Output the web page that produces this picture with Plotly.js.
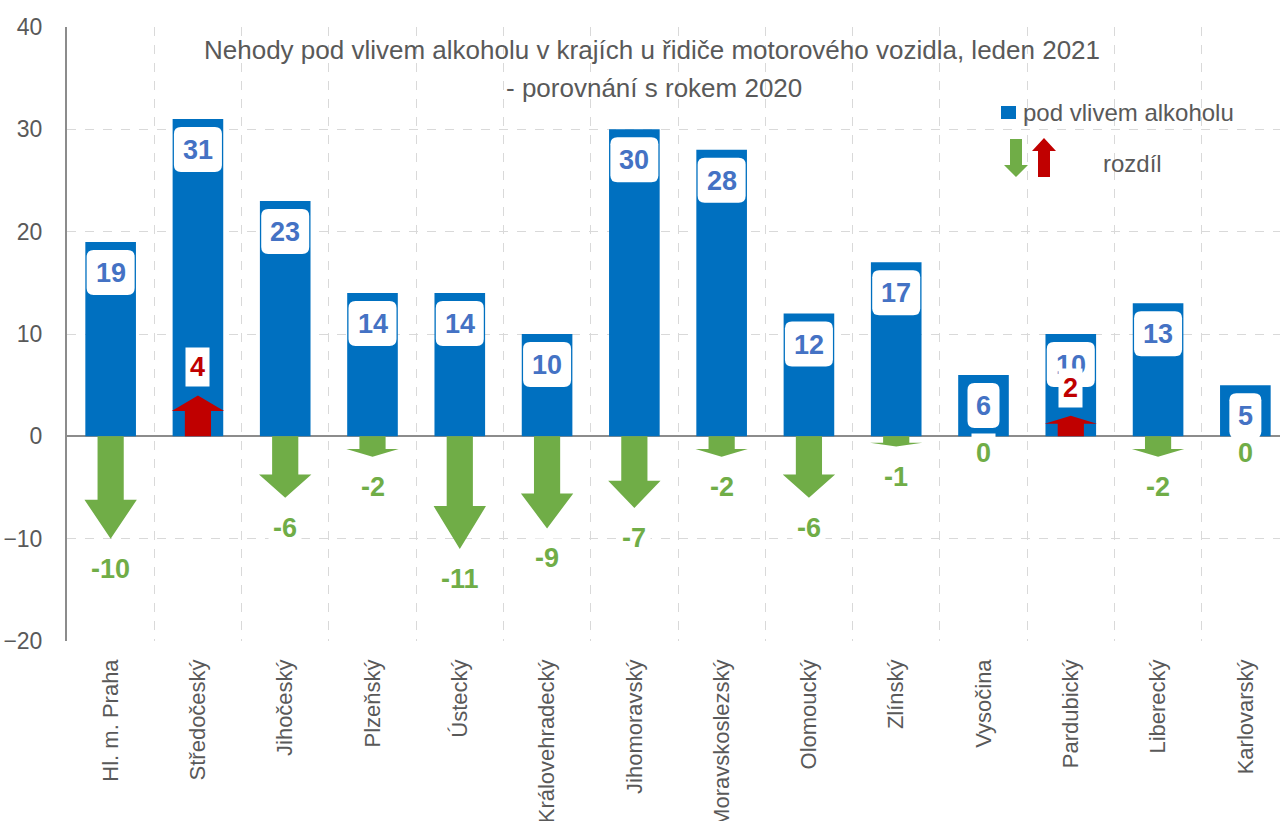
<!DOCTYPE html>
<html>
<head>
<meta charset="utf-8">
<script src="https://cdn.plot.ly/plotly-3.0.1.min.js"></script>
<style>
html,body{margin:0;padding:0;overflow:hidden;background:#fff}
#chart{width:1300px;height:821px}
</style>
</head>
<body>
<div id="chart"></div>
<script>
// ---- data ----
const regions = ["Hl. m. Praha","Středočeský","Jihočeský","Plzeňský","Ústecký","Královehradecký","Jihomoravský","Moravskoslezský","Olomoucký","Zlínský","Vysočina","Pardubický","Liberecký","Karlovarský"];
const accidents = [19,31,23,14,14,10,30,28,12,17,6,10,13,5];
const difference = [-10,4,-6,-2,-11,-9,-7,-2,-6,-1,0,2,-2,0];
const yTicks = [-20,-10,0,10,20,30,40];
const titleLine1 = "Nehody pod vlivem alkoholu v krajích u řidiče motorového vozidla, leden 2021";
const titleLine2 = "- porovnání s rokem 2020";
const legendBarLabel = "pod vlivem alkoholu";
const legendDiffLabel = "rozdíl";

// ---- styles ----
const W = 1300, H = 821;
const M = {l:67, r:11, t:27, b:180};
const PW = W - M.l - M.r, PH = H - M.t - M.b;
const BLUE = "#0070C0", LBLUE = "#4472C4", GREEN = "#70AD47", RED = "#C00000", GRAY = "#595959";
const FONT = "Liberation Sans, Arial, sans-serif";
const NARROW = "Liberation Sans Narrow, Arial Narrow, Liberation Sans, Arial, sans-serif";
const px2x = p => (p - M.l) / PW;
const py2y = p => (M.t + PH - p) / PH;

const bar = {
  type: "bar",
  x: regions,
  y: accidents,
  width: 0.58,
  marker: {color: BLUE, line: {width: 0}},
  name: legendBarLabel,
  showlegend: false,
  hoverinfo: "x+y"
};

const shapes = [];
const annotations = [];

// difference arrows (data coordinates)
difference.forEach((d, i) => {
  if (d === 0) return;
  const sw = 0.15, hw = 0.3, b = 0.62 * d;
  const path = `M ${i-sw},0 L ${i+sw},0 L ${i+sw},${b} L ${i+hw},${b} L ${i},${d} L ${i-hw},${b} L ${i-sw},${b} Z`;
  shapes.push({type: "path", xref: "x", yref: "y", path: path,
    fillcolor: d < 0 ? GREEN : RED, line: {width: 0}, layer: "above"});
});

// value label boxes (rounded) + text
accidents.forEach((v, i) => {
  const w = String(v).length > 1 ? 48 : 32;
  const r = 7, top = -8, bot = -53, L = -w/2, R = w/2;
  const path = `M ${L+r},${top} L ${R-r},${top} Q ${R},${top} ${R},${top-r} L ${R},${bot+r} Q ${R},${bot} ${R-r},${bot} L ${L+r},${bot} Q ${L},${bot} ${L},${bot+r} L ${L},${top-r} Q ${L},${top} ${L+r},${top} Z`;
  shapes.push({type: "path", xref: "x", yref: "y", xsizemode: "pixel", ysizemode: "pixel",
    xanchor: regions[i], yanchor: v, path: path, fillcolor: "#ffffff", line: {width: 0}, layer: "above"});
  annotations.push({x: regions[i], y: v, xref: "x", yref: "y", yshift: -31, showarrow: false,
    text: String(v), font: {family: NARROW, size: 27, color: LBLUE, weight: 700}});
});

// difference labels
difference.forEach((d, i) => {
  annotations.push({x: regions[i], y: d, xref: "x", yref: "y",
    yshift: d > 0 ? 28 : (d < 0 ? -30 : -17), showarrow: false,
    text: String(d), bgcolor: "#ffffff", borderpad: 4,
    font: {family: NARROW, size: 27, color: d > 0 ? RED : GREEN, weight: 700}});
});

// title line 2
annotations.push({xref: "paper", yref: "paper", x: px2x(654), y: py2y(88), xanchor: "center", yanchor: "middle",
  showarrow: false, text: titleLine2, font: {family: FONT, size: 26, color: GRAY}});

// legend
shapes.push({type: "rect", xref: "paper", yref: "paper", x0: px2x(1001), x1: px2x(1016), y0: py2y(119), y1: py2y(106),
  fillcolor: BLUE, line: {width: 0}});
annotations.push({xref: "paper", yref: "paper", x: px2x(1021), y: py2y(113), xanchor: "left", yanchor: "middle",
  showarrow: false, text: legendBarLabel, font: {family: FONT, size: 24, color: GRAY}});
shapes.push({type: "path", xref: "paper", yref: "paper", xsizemode: "pixel", ysizemode: "pixel",
  xanchor: px2x(1016), yanchor: py2y(158),
  path: "M -6,19 L 6,19 L 6,-7 L 12,-7 L 0,-19 L -12,-7 L -6,-7 Z", fillcolor: GREEN, line: {width: 0}});
shapes.push({type: "path", xref: "paper", yref: "paper", xsizemode: "pixel", ysizemode: "pixel",
  xanchor: px2x(1044), yanchor: py2y(158),
  path: "M -6,-19 L 6,-19 L 6,7 L 12,7 L 0,20 L -12,7 L -6,7 Z", fillcolor: RED, line: {width: 0}});
annotations.push({xref: "paper", yref: "paper", x: px2x(1101), y: py2y(163), xanchor: "left", yanchor: "middle",
  showarrow: false, text: legendDiffLabel, font: {family: FONT, size: 24, color: GRAY}});

const layout = {
  width: W, height: H,
  margin: M,
  paper_bgcolor: "#ffffff", plot_bgcolor: "#ffffff",
  showlegend: false,
  title: {text: titleLine1, xref: "container", yref: "container", x: 652 / W, y: 1 - 50 / H,
    xanchor: "center", yanchor: "middle", font: {family: FONT, size: 26, color: GRAY}},
  xaxis: {
    type: "category", tickson: "boundaries", ticks: "",
    showgrid: true, gridcolor: "#D9D9D9", griddash: "dash", gridwidth: 1,
    showline: false, zeroline: false,
    tickangle: -90, ticklabelstandoff: 13,
    tickfont: {family: FONT, size: 22, color: GRAY},
    range: [-0.5, 13.5]
  },
  yaxis: {
    range: [-20, 40], tickvals: yTicks, ticks: "",
    showgrid: true, gridcolor: "#D9D9D9", griddash: "dash", gridwidth: 1,
    zeroline: true, zerolinecolor: "#8C8C8C", zerolinewidth: 2,
    showline: true, linecolor: "#8C8C8C", linewidth: 2,
    ticklabelstandoff: 18,
    tickfont: {family: FONT, size: 23, color: GRAY}
  },
  shapes: shapes,
  annotations: annotations
};

Plotly.newPlot("chart", [bar], layout, {displayModeBar: false, staticPlot: true});
</script>
</body>
</html>
